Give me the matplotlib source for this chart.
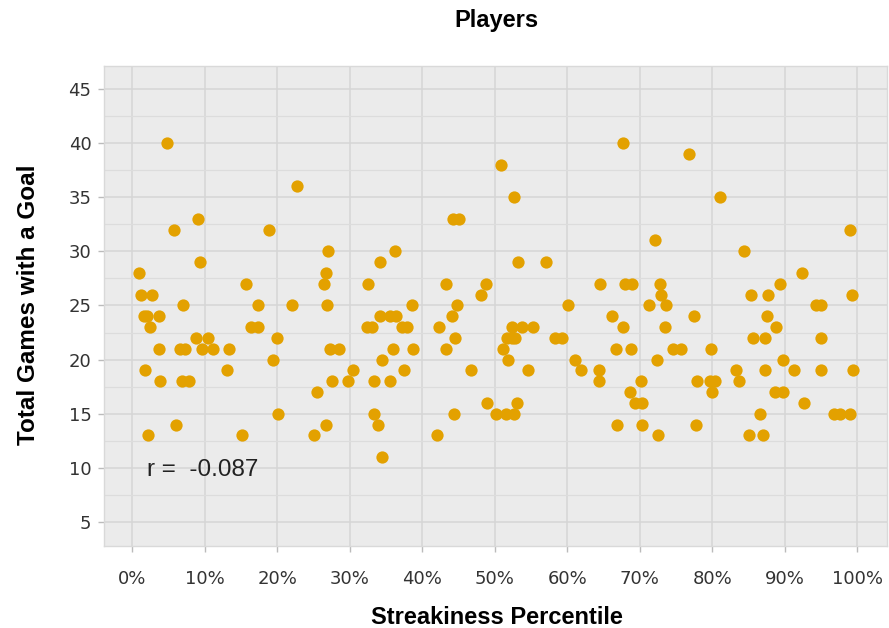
import matplotlib
matplotlib.use("Agg")
import matplotlib.pyplot as plt
from matplotlib.ticker import MultipleLocator, FuncFormatter

# streakiness percentile (%) and total games with a goal
streak_pct = [
    0.9, 1.15, 1.6, 1.75, 2.05, 2.15, 2.4, 2.7, 3.65, 3.75, 3.85, 4.85, 5.7, 6.0,
    6.6, 6.8, 7.0, 7.3, 7.8, 8.75, 9.1, 9.3, 9.55, 10.5, 11.1, 13.1, 13.35, 15.1,
    15.65, 16.4, 17.3, 17.4, 18.9, 19.35, 19.9, 20.1, 22.0, 22.65, 25.1, 25.5,
    26.5, 26.7, 26.75, 26.9, 27.0, 27.3, 27.5, 28.5, 29.7, 30.4, 32.3, 32.5, 33.1,
    33.3, 33.3, 33.9, 34.1, 34.1, 34.4, 34.4, 35.5, 35.6, 36.0, 36.2, 36.3, 37.2,
    37.4, 37.9, 38.6, 38.7, 42.0, 42.3, 43.2, 43.3, 44.1, 44.2, 44.3, 44.5, 44.8,
    45.0, 46.7, 48.1, 48.8, 48.9, 50.1, 50.8, 51.1, 51.6, 51.7, 51.8, 52.4, 52.4,
    52.6, 52.6, 52.8, 53.1, 53.2, 53.8, 54.6, 55.2, 57.0, 58.3, 59.2, 60.1, 61.1,
    61.9, 64.3, 64.4, 64.5, 66.2, 66.7, 66.9, 67.6, 67.7, 67.9, 68.6, 68.7, 68.9,
    69.3, 70.1, 70.3, 70.3, 71.3, 72.1, 72.4, 72.5, 72.8, 72.9, 73.4, 73.6, 74.6,
    75.7, 76.8, 77.5, 77.7, 77.9, 79.6, 79.8, 80.0, 80.4, 81.0, 83.3, 83.7, 84.4,
    85.0, 85.3, 85.6, 86.6, 87.0, 87.2, 87.3, 87.5, 87.7, 88.6, 88.7, 89.3, 89.7,
    89.7, 91.3, 92.3, 92.6, 94.3, 94.9, 94.9, 95.0, 96.8, 97.6, 99.0, 99.0, 99.2,
    99.4,
]
games_with_goal = [
    28, 26, 24, 19, 24, 13, 23, 26, 24, 21, 18, 40, 32, 14,
    21, 18, 25, 21, 18, 22, 33, 29, 21, 22, 21, 19, 21, 13,
    27, 23, 23, 25, 32, 20, 22, 15, 25, 36, 13, 17,
    27, 14, 28, 25, 30, 21, 18, 21, 18, 19, 23, 27, 23,
    18, 15, 14, 29, 24, 20, 11, 24, 18, 21, 30, 24, 23,
    19, 23, 25, 21, 13, 23, 27, 21, 24, 33, 15, 22, 25,
    33, 19, 26, 27, 16, 15, 38, 21, 15, 22, 20, 23, 22,
    35, 15, 22, 16, 29, 23, 19, 23, 29, 22, 22, 25, 20,
    19, 19, 18, 27, 24, 21, 14, 40, 23, 27, 17, 21, 27,
    16, 18, 16, 14, 25, 31, 20, 13, 27, 26, 23, 25, 21,
    21, 39, 24, 14, 18, 18, 21, 17, 18, 35, 19, 18, 30,
    13, 26, 22, 15, 13, 22, 19, 24, 26, 17, 23, 27, 20,
    17, 19, 28, 16, 25, 22, 19, 25, 15, 15, 32, 15, 26,
    19,
]
r_value = -0.087

fig = plt.figure(figsize=(8.89, 6.28), dpi=100)
ax = fig.add_axes([0.117, 0.1306, 0.881, 0.7644])
plt.rcParams['font.family'] = ['Liberation Sans', 'DejaVu Sans']

ax.set_facecolor("#EBEBEB")
for side in ax.spines.values():
    side.set_color("#D9D9D9")
    side.set_linewidth(1)

ax.scatter(streak_pct, games_with_goal, s=78, color="#E3A100", zorder=3, linewidths=0)

ax.set_xlim(-3.9, 104.1)
ax.set_ylim(2.8, 47.1)
ax.xaxis.set_major_locator(MultipleLocator(10))
ax.xaxis.set_major_formatter(FuncFormatter(lambda v, p: f"{v:.0f}%"))
ax.yaxis.set_minor_locator(MultipleLocator(2.5))
ax.set_yticks([5, 10, 15, 20, 25, 30, 35, 40, 45])

ax.grid(which="major", color="#D6D6D6", linewidth=1.1, zorder=0)
ax.grid(which="minor", axis="y", color="#DCDCDC", linewidth=0.9, zorder=0)
ax.set_axisbelow(True)

ax.tick_params(axis="both", which="major", color="#BBBBBB", length=4, width=1,
               labelsize=13, labelcolor="#333333")
ax.tick_params(axis="x", pad=13)
ax.tick_params(axis="y", pad=5)
ax.tick_params(which="minor", length=0)

ax.text(2.0, 9.8, f"r =  {r_value}", fontsize=17.5, color="#222222", va="center", ha="left")

fig.text(0.5585, 0.968, "Players", fontsize=17, fontweight="bold", ha="center", va="center")
fig.text(0.5585, 0.016, "Streakiness Percentile", fontsize=17, fontweight="bold",
         ha="center", va="center")
fig.text(0.0315, 0.514, "Total Games with a Goal", fontsize=17.5, fontweight="bold",
         ha="center", va="center", rotation=90)

fig.savefig("out.png", dpi=100)
